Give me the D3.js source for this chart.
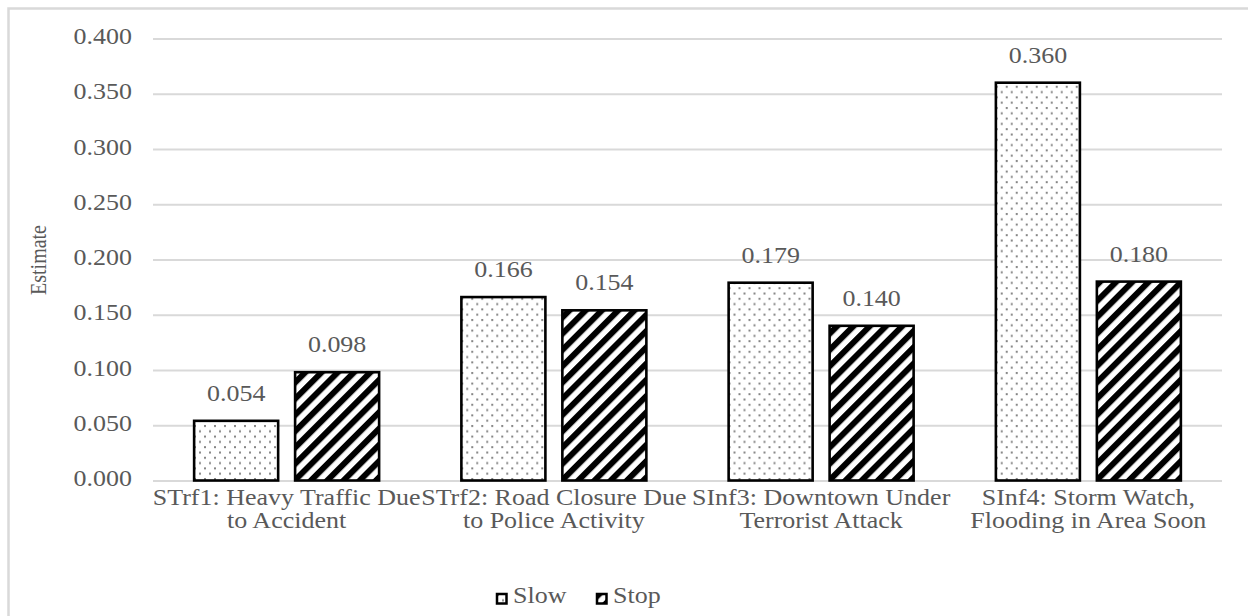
<!DOCTYPE html>
<html>
<head>
<meta charset="utf-8">
<script src="https://cdn.jsdelivr.net/npm/d3@7"></script>
<style>
  html, body { margin: 0; padding: 0; background: #fff; }
  svg { display: block; }
  text { font-family: "Liberation Serif", "Times New Roman", serif; fill: #595959; }
</style>
</head>
<body>
<svg id="chart" width="1248" height="616"></svg>
<script>
// Category labels (two lines each), series values and axis ticks
const categories = [
  ["STrf1: Heavy Traffic Due", "to Accident"],
  ["STrf2: Road Closure Due", "to Police Activity"],
  ["SInf3: Downtown Under", "Terrorist Attack"],
  ["SInf4: Storm Watch,", "Flooding in Area Soon"]
];
const seriesNames = ["Slow", "Stop"];
const slowValues = [0.054, 0.166, 0.179, 0.360];
const stopValues = [0.098, 0.154, 0.140, 0.180];
const yTicks = [0, 0.05, 0.10, 0.15, 0.20, 0.25, 0.30, 0.35, 0.40];
const yTitle = "Estimate";

const svg = d3.select("#chart");
const SX = 1.13;          // horizontal stretch of the serif glyphs
const FONT = 23;

// frame of the chart area
svg.append("rect")
  .attr("x", 8.5).attr("y", 8.5).attr("width", 1300).attr("height", 700)
  .attr("fill", "none").attr("stroke", "#d9d9d9").attr("stroke-width", 2.5);

// fill patterns
const defs = svg.append("defs");
const dots = defs.append("pattern")
  .attr("id", "dots").attr("patternUnits", "userSpaceOnUse")
  .attr("width", 10).attr("height", 10.6);
dots.append("rect").attr("width", 10).attr("height", 10.6).attr("fill", "#fff");
dots.append("rect").attr("x", 1).attr("y", 1).attr("width", 2).attr("height", 2).attr("fill", "#858585");
dots.append("rect").attr("x", 6).attr("y", 6.3).attr("width", 2).attr("height", 2).attr("fill", "#858585");

const stripes = defs.append("pattern")
  .attr("id", "stripes").attr("patternUnits", "userSpaceOnUse")
  .attr("width", 11.5).attr("height", 11.5)
  .attr("patternTransform", "rotate(45)");
stripes.append("rect").attr("width", 11.5).attr("height", 11.5).attr("fill", "#fff");
stripes.append("rect").attr("width", 6).attr("height", 11.5).attr("fill", "#000");

const fills = { Slow: "url(#dots)", Stop: "url(#stripes)" };

// scales
const plotLeft = 153, plotRight = 1222, plotTop = 38.5, plotBottom = 480.5;
const y = d3.scaleLinear().domain([0, 0.4]).range([plotBottom, plotTop]);
const x0 = d3.scaleBand().domain(d3.range(categories.length)).range([plotLeft, plotRight]).padding(0);
const bw = x0.bandwidth();
const x1 = d3.scaleBand().domain(seriesNames)
  .range([bw * 0.1539, bw * 0.8461]).paddingInner(0.168).paddingOuter(0);

// gridlines + tick labels
const yAxis = svg.append("g")
  .attr("transform", `translate(${plotLeft},0)`)
  .call(d3.axisLeft(y).tickValues(yTicks).tickFormat(d3.format(".3f")).tickSize(-(plotRight - plotLeft)));
yAxis.select(".domain").remove();
yAxis.selectAll(".tick line").attr("stroke", "#d9d9d9").attr("stroke-width", 2);
yAxis.selectAll(".tick text")
  .attr("x", null).attr("dy", null)
  .attr("text-anchor", "end")
  .attr("font-size", FONT)
  .attr("fill", "#595959")
  .attr("transform", `translate(-21,5) scale(${SX},1)`);

// bars
const rows = categories.map((c, i) => ({ i, Slow: slowValues[i], Stop: stopValues[i] }));
const groups = svg.append("g").selectAll("g").data(rows).join("g")
  .attr("transform", d => `translate(${x0(d.i)},0)`);

groups.selectAll("rect").data(d => seriesNames.map(k => ({ key: k, value: d[k] }))).join("rect")
  .attr("x", d => x1(d.key))
  .attr("y", d => y(d.value))
  .attr("width", x1.bandwidth())
  .attr("height", d => y(0) - y(d.value))
  .attr("fill", d => fills[d.key])
  .attr("stroke", "#000").attr("stroke-width", 2.6);

// value labels
groups.selectAll("text.val").data(d => seriesNames.map(k => ({ key: k, value: d[k] }))).join("text")
  .attr("class", "val")
  .attr("text-anchor", "middle")
  .attr("font-size", FONT)
  .attr("transform", d => `translate(${x1(d.key) + x1.bandwidth() / 2},${y(d.value) - 20}) scale(${SX},1)`)
  .text(d => d3.format(".3f")(d.value));

// category labels
const xAxis = svg.append("g")
  .attr("transform", `translate(0,${plotBottom})`)
  .call(d3.axisBottom(x0).tickSize(0).tickFormat(""));
xAxis.select(".domain").remove();
xAxis.selectAll(".tick text").remove();
xAxis.selectAll(".tick").each(function (d) {
  categories[d].forEach((line, j) => {
    d3.select(this).append("text")
      .attr("text-anchor", "middle")
      .attr("font-size", FONT)
      .attr("fill", "#595959")
      .attr("transform", `translate(0,${24.5 + j * 23}) scale(${SX},1)`)
      .text(line);
  });
});

// axis title
svg.append("text")
  .attr("text-anchor", "middle")
  .attr("font-size", 20)
  .attr("transform", `translate(46,260) scale(${SX},1) rotate(-90)`)
  .text(yTitle);

// legend
const legendItems = [
  { key: "Slow", x: 496 },
  { key: "Stop", x: 596 }
];
const legend = svg.append("g").selectAll("g").data(legendItems).join("g")
  .attr("transform", d => `translate(${d.x},593)`);
legend.append("rect")
  .attr("x", 1).attr("y", 1).attr("width", 9.5).attr("height", 9.5)
  .attr("fill", d => fills[d.key])
  .attr("stroke", "#000").attr("stroke-width", 2.5);
legend.append("text")
  .attr("font-size", FONT)
  .attr("transform", `translate(17,10) scale(${SX},1)`)
  .text(d => d.key);
</script>
</body>
</html>
